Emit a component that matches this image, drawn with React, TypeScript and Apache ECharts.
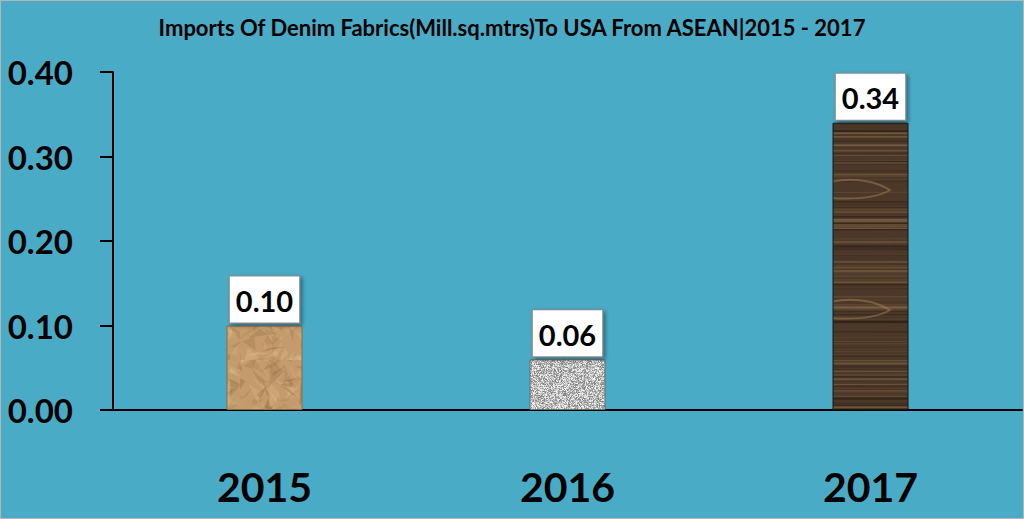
import React, { useEffect, useRef } from "react";
import * as echarts from "echarts";

const TITLE = "Imports Of Denim Fabrics(Mill.sq.mtrs)To USA From ASEAN|2015 - 2017";
const CATEGORIES = ["2015", "2016", "2017"];
const VALUES = [0.1, 0.06, 0.34];
const Y_MIN = 0;
const Y_MAX = 0.4;
const Y_INTERVAL = 0.1;

function rng(seed: number) {
  let s = seed >>> 0;
  return () => {
    s = (s * 1664525 + 1013904223) >>> 0;
    return s / 4294967296;
  };
}

function paperTexture(): HTMLCanvasElement {
  const c = document.createElement("canvas");
  c.width = 120;
  c.height = 120;
  const ctx = c.getContext("2d")!;
  const r = rng(7);
  ctx.fillStyle = "#c49b6c";
  ctx.fillRect(0, 0, 120, 120);
  for (let i = 0; i < 320; i++) {
    const x = r() * 140 - 10;
    const y = r() * 140 - 10;
    ctx.beginPath();
    ctx.moveTo(x, y);
    ctx.lineTo(x + (r() - 0.5) * 30, y + (r() - 0.5) * 30);
    ctx.lineTo(x + (r() - 0.5) * 30, y + (r() - 0.5) * 30);
    ctx.closePath();
    const light = r() > 0.5;
    ctx.fillStyle = light
      ? `rgba(230,200,155,${0.12 + r() * 0.2})`
      : `rgba(115,80,45,${0.08 + r() * 0.2})`;
    ctx.fill();
  }
  return c;
}

function graniteTexture(): HTMLCanvasElement {
  const c = document.createElement("canvas");
  c.width = 80;
  c.height = 80;
  const ctx = c.getContext("2d")!;
  const r = rng(11);
  const img = ctx.createImageData(80, 80);
  for (let i = 0; i < 80 * 80; i++) {
    const v = Math.floor(125 + r() * 125);
    img.data[i * 4] = v;
    img.data[i * 4 + 1] = v;
    img.data[i * 4 + 2] = v;
    img.data[i * 4 + 3] = 255;
  }
  ctx.putImageData(img, 0, 0);
  return c;
}

function woodTexture(): HTMLCanvasElement {
  const W = 1024;
  const H = 520;
  const c = document.createElement("canvas");
  c.width = W;
  c.height = H;
  const ctx = c.getContext("2d")!;
  const r = rng(23);
  ctx.fillStyle = "#4b3829";
  ctx.fillRect(0, 0, W, H);
  for (let i = 0; i < 260; i++) {
    const y = r() * H;
    ctx.strokeStyle = r() > 0.55
      ? `rgba(140,110,75,${0.2 + r() * 0.35})`
      : `rgba(30,20,12,${0.15 + r() * 0.3})`;
    ctx.lineWidth = 0.5 + r() * 1.5;
    ctx.beginPath();
    ctx.moveTo(0, y);
    ctx.bezierCurveTo(W * 0.33, y + (r() - 0.5) * 6, W * 0.66, y + (r() - 0.5) * 6, W, y);
    ctx.stroke();
  }
  ctx.strokeStyle = "rgba(165,130,90,0.5)";
  ctx.lineWidth = 2;
  for (const yy of [190, 310]) {
    ctx.beginPath();
    ctx.moveTo(830, yy - 8);
    ctx.bezierCurveTo(860, yy - 14, 880, yy - 6, 890, yy);
    ctx.bezierCurveTo(880, yy + 6, 860, yy + 10, 830, yy + 8);
    ctx.stroke();
  }
  return c;
}

export default function App() {
  const ref = useRef<HTMLDivElement>(null);
  useEffect(() => {
    document.body.style.margin = "0";
    if (!ref.current) return;
    const chart = echarts.init(ref.current, undefined, { renderer: "svg" });
    const textures = [paperTexture(), graniteTexture(), woodTexture()];
    const borders = ["#8a6a4a", "#6a6a6a", "#1e140c"];
    chart.setOption({
      animation: false,
      backgroundColor: "transparent",
      title: {
        text: TITLE,
        left: "center",
        top: 11,
        textStyle: {
          fontFamily: "Lato",
          fontWeight: "bold",
          fontSize: 22,
          color: "#000",
        },
      },
      grid: { left: 113, right: 2, top: 72, bottom: 109, containLabel: false },
      xAxis: {
        type: "category",
        data: CATEGORIES,
        axisLine: { show: true, lineStyle: { color: "#000", width: 2 } },
        axisTick: { show: false },
        axisLabel: {
          margin: 56,
          fontFamily: "Lato",
          fontWeight: "bold",
          fontSize: 41,
          color: "#000",
        },
      },
      yAxis: {
        type: "value",
        min: Y_MIN,
        max: Y_MAX,
        interval: Y_INTERVAL,
        splitLine: { show: false },
        axisLine: { show: true, lineStyle: { color: "#000", width: 2 } },
        axisTick: { show: true, inside: false, length: 13, lineStyle: { color: "#000", width: 2 } },
        axisLabel: {
          margin: 40,
          fontFamily: "Lato",
          fontWeight: "bold",
          fontSize: 33,
          color: "#000",
          formatter: (v: number) => v.toFixed(2),
        },
      },
      series: [
        {
          type: "bar",
          barWidth: 76,
          data: VALUES.map((v, i) => ({
            value: v,
            itemStyle: {
              color: { image: textures[i], repeat: "repeat" },
              borderColor: borders[i],
              borderWidth: 1,
            },
          })),
          label: {
            show: true,
            position: "top",
            distance: 3,
            formatter: (p: any) => Number(p.value).toFixed(2),
            fontFamily: "Lato",
            fontWeight: "bold",
            fontSize: 29,
            color: "#000",
            backgroundColor: "#fff",
            borderColor: "#8a8a8a",
            borderWidth: 1,
            padding: [6, 6, 4, 6],
            lineHeight: 36,
            shadowColor: "rgba(0,0,0,0.45)",
            shadowBlur: 4,
            shadowOffsetX: 2,
            shadowOffsetY: 2,
          },
        },
      ],
    });
    return () => chart.dispose();
  }, []);
  return (
    <div
      style={{
        position: "fixed",
        left: 0,
        top: 0,
        width: 1024,
        height: 519,
        background: "#4aabc6",
        boxSizing: "border-box",
        border: "1px solid #b5b5b5",
      }}
    >
      <div ref={ref} style={{ position: "absolute", left: -1, top: -1, width: 1024, height: 519 }} />
    </div>
  );
}
